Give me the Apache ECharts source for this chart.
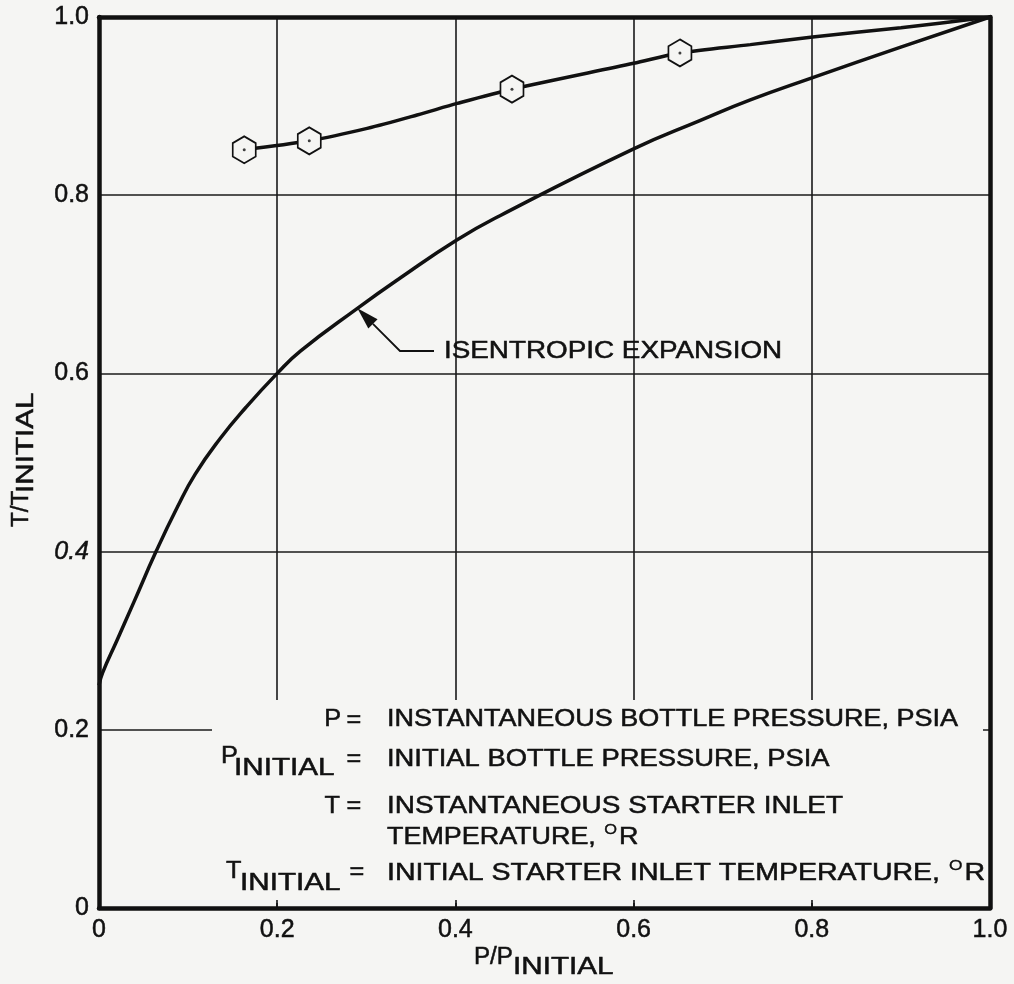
<!DOCTYPE html>
<html><head><meta charset="utf-8">
<script src="https://cdn.jsdelivr.net/npm/echarts@6/dist/echarts.min.js"></script>
<style>html,body{margin:0;padding:0;background:#f5f5f3}#c{width:1014px;height:984px}</style>
</head><body><div id="c"></div>
<script>
// ---- data ----
const isentropicP = [0, 0.004, 0.020, 0.039, 0.064, 0.088, 0.108, 0.136, 0.165, 0.200, 0.226, 0.290, 0.338, 0.402, 0.450, 0.600, 0.675, 0.731, 0.801, 0.899, 1.0];
const isentropicT = [0.250, 0.264, 0.300, 0.343, 0.400, 0.450, 0.487, 0.527, 0.562, 0.600, 0.625, 0.673, 0.707, 0.750, 0.777, 0.852, 0.884, 0.907, 0.932, 0.966, 1.0];
const measuredP = [0.163, 0.236, 0.301, 0.357, 0.402, 0.4635, 0.600, 0.652, 0.731, 0.801, 0.900, 1.0];
const measuredT = [0.851, 0.861, 0.875, 0.890, 0.903, 0.919, 0.948, 0.9596, 0.969, 0.9776, 0.988, 1.0];
const markerP = [0.163, 0.236, 0.4635, 0.652];
const markerT = [0.851, 0.861, 0.919, 0.9596];
const xTickValues = [0, 0.2, 0.4, 0.6, 0.8, 1.0];
const xTickLabels = ['0', '0.2', '0.4', '0.6', '0.8', '1.0'];
const yTickValues = [0, 0.2, 0.4, 0.6, 0.8, 1.0];
const yTickLabels = ['0', '0.2', '0.4', '0.6', '0.8', '1.0'];
const annotationText = 'ISENTROPIC EXPANSION';
const annotationTip = [0.29, 0.673];
const xTitleMain = 'P/P', xTitleSub = 'INITIAL';
const yTitleMain = 'T/T', yTitleSub = 'INITIAL';

const BG = '#f5f5f3', INK = '#111';
const FONT = 'Liberation Sans, Arial, sans-serif';

function labelFor(values, labels, v) {
  for (let i = 0; i < values.length; i++) if (Math.abs(values[i] - v) < 1e-6) return labels[i];
  return '';
}
const zip = (a, b) => a.map((v, i) => [v, b[i]]);

const chart = echarts.init(document.getElementById('c'), null, {renderer: 'canvas'});
const hex = 'path://M0,-1 L0.866,-0.5 L0.866,0.5 L0,1 L-0.866,0.5 L-0.866,-0.5 Z';

const axisBase = {type: 'value', min: 0, max: 1, interval: 0.2};
const labelBase = {fontFamily: FONT, fontSize: 25, color: INK, textBorderColor: INK, textBorderWidth: 0.5};
const option = {
  backgroundColor: BG,
  animation: false,
  grid: {left: 99, right: 24, top: 17, bottom: 76, containLabel: false},
  xAxis: [
    Object.assign({}, axisBase, {position: 'bottom', z: 0, axisLine: {show: false}, axisTick: {show: false}, axisLabel: {show: false},
      splitLine: {show: true, lineStyle: {color: '#1a1a1a', width: 1.6}}}),
    Object.assign({}, axisBase, {position: 'bottom', z: 10,
      axisLine: {show: true, onZero: false, lineStyle: {color: INK, width: 4.5}},
      axisTick: {show: true, inside: true, length: 8, lineStyle: {color: INK, width: 1.6}},
      axisLabel: Object.assign({show: true, margin: 10, formatter: v => labelFor(xTickValues, xTickLabels, v)}, labelBase),
      splitLine: {show: false}}),
    Object.assign({}, axisBase, {position: 'top', z: 10,
      axisLine: {show: true, onZero: false, lineStyle: {color: INK, width: 4.5}},
      axisTick: {show: false}, axisLabel: {show: false}, splitLine: {show: false}})
  ],
  yAxis: [
    Object.assign({}, axisBase, {position: 'left', z: 0, axisLine: {show: false}, axisTick: {show: false}, axisLabel: {show: false},
      splitLine: {show: true, lineStyle: {color: '#1a1a1a', width: 1.6}}}),
    Object.assign({}, axisBase, {position: 'left', z: 10,
      axisLine: {show: true, onZero: false, lineStyle: {color: INK, width: 4.5}},
      axisTick: {show: false},
      axisLabel: Object.assign({show: true, margin: 10,
        formatter: v => { const s = labelFor(yTickValues, yTickLabels, v); return s === '0.4' ? '{i|' + s + '}' : s; },
        rich: {i: Object.assign({fontStyle: 'italic'}, labelBase)}}, labelBase),
      splitLine: {show: false}}),
    Object.assign({}, axisBase, {position: 'right', z: 10,
      axisLine: {show: true, onZero: false, lineStyle: {color: INK, width: 4.5}},
      axisTick: {show: false}, axisLabel: {show: false}, splitLine: {show: false}})
  ],
  series: [
    {type: 'line', xAxisIndex: 0, yAxisIndex: 0, data: zip(isentropicP, isentropicT), smooth: 0.5,
      showSymbol: false, lineStyle: {color: INK, width: 3.5}, z: 3},
    {type: 'line', xAxisIndex: 0, yAxisIndex: 0, data: zip(measuredP, measuredT), smooth: 0.3,
      showSymbol: false, lineStyle: {color: INK, width: 3.5}, z: 3},
    {type: 'scatter', xAxisIndex: 0, yAxisIndex: 0, data: zip(markerP, markerT), symbol: hex, symbolSize: [23, 27],
      itemStyle: {color: BG, borderColor: INK, borderWidth: 1.8, opacity: 1}, z: 5},
    {type: 'scatter', xAxisIndex: 0, yAxisIndex: 0, data: zip(markerP, markerT), symbol: 'circle', symbolSize: 3,
      itemStyle: {color: INK}, z: 6}
  ]
};
chart.setOption(option);

// ---- decorations (legend block, titles, annotation) ----
const measureCtx = document.createElement('canvas').getContext('2d');
function textWidth(s, size) { measureCtx.font = size + 'px ' + FONT; return measureCtx.measureText(s).width; }

const txt = (text, x, y, sx, opts) => Object.assign({type: 'text', x: x, y: y, z: 20, scaleX: sx || 1,
  style: Object.assign({text: text, font: '23px ' + FONT, fill: INK, stroke: INK, lineWidth: 0.5,
    textVerticalAlign: 'middle', textAlign: 'left'}, opts && opts.style || {})},
  opts && opts.el || {});
// text followed by a superscript "O" and "R"
function withDegree(main, x, y, sx) {
  const w = textWidth(main, 23) * sx;
  const wo = textWidth('O', 14) * sx;
  return [
    txt(main, x, y, sx),
    txt('O', x + w + 1, y - 8, sx, {style: {font: '14px ' + FONT, lineWidth: 0.3}}),
    txt('R', x + w + wo + 3, y, sx)
  ];
}

const tip = chart.convertToPixel({xAxisIndex: 0, yAxisIndex: 0}, annotationTip);
const elbow = [400, 351], lineEnd = [434, 351];
const dx = tip[0] - elbow[0], dy = tip[1] - elbow[1], L = Math.hypot(dx, dy), ux = dx / L, uy = dy / L;
const ah = 22, aw = 6.5;
const base = [tip[0] - ux * ah, tip[1] - uy * ah];
const arrowHead = [tip, [base[0] - uy * aw, base[1] + ux * aw], [base[0] + uy * aw, base[1] - ux * aw]];

const SUB = 1.29;
const graphics = [
  {type: 'rect', z: 5, shape: {x: 212, y: 700, width: 771, height: 203}, style: {fill: BG}},
  {type: 'polyline', z: 20, shape: {points: [lineEnd, elbow, base]}, style: {stroke: INK, lineWidth: 1.8, fill: null}},
  {type: 'polygon', z: 20, shape: {points: arrowHead}, style: {fill: INK}},
  txt(annotationText, 444, 352, 1.21),
  // legend block
  txt('P', 341, 720, 1.1, {style: {textAlign: 'right'}}),
  txt('=', 354, 721, 1.1, {style: {textAlign: 'center'}}),
  txt('INSTANTANEOUS BOTTLE PRESSURE, PSIA', 387, 720, 1.175),
  txt('P', 221, 757, 1.1),
  txt('INITIAL', 234, 769, SUB),
  txt('=', 354, 760, 1.1, {style: {textAlign: 'center'}}),
  txt('INITIAL BOTTLE PRESSURE, PSIA', 387, 760, 1.19),
  txt('T', 340, 807, 1.1, {style: {textAlign: 'right'}}),
  txt('=', 354, 807, 1.1, {style: {textAlign: 'center'}}),
  txt('INSTANTANEOUS STARTER INLET', 387, 807, 1.215),
  ...withDegree('TEMPERATURE, ', 387, 838, 1.17),
  txt('T', 226, 872, 1.1),
  txt('INITIAL', 240, 884, SUB),
  txt('=', 357, 873, 1.1, {style: {textAlign: 'center'}}),
  ...withDegree('INITIAL STARTER INLET TEMPERATURE, ', 387, 874, 1.24),
  // axis titles
  txt(xTitleMain, 474, 958, 1.05),
  txt(xTitleSub, 513, 968, SUB),
  txt(yTitleMain, 22, 527, 1.05, {el: {rotation: Math.PI / 2}}),
  txt(yTitleSub, 27, 493, SUB, {el: {rotation: Math.PI / 2}})
];
chart.setOption({graphic: {elements: graphics}});
</script>
</body></html>
